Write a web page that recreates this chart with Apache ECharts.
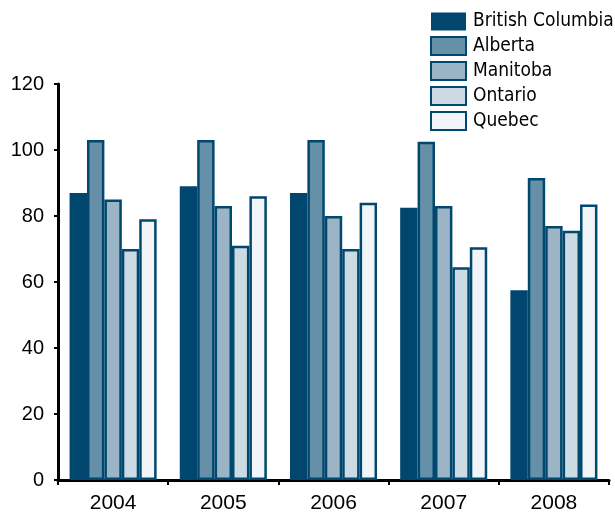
<!DOCTYPE html>
<html><head><meta charset="utf-8">
<script src="https://cdn.jsdelivr.net/npm/echarts@6/dist/echarts.min.js"></script>
<style>html,body{margin:0;padding:0;background:#fff}#c{width:615px;height:514px}</style>
</head><body><div id="c"></div>
<script>
const categories = ['2004','2005','2006','2007','2008'];
const seriesNames = ['British Columbia','Alberta','Manitoba','Ontario','Quebec'];
const britishColumbia = [87, 89, 87, 82.5, 57.5];
const alberta = [103, 103, 103, 102.5, 91.5];
const manitoba = [85, 83, 80, 83, 77];
const ontario = [70, 71, 70, 64.5, 75.5];
const quebec = [79, 86, 84, 70.5, 83.5];
const yTicks = [0,20,40,60,80,100,120];

const values = [britishColumbia, alberta, manitoba, ontario, quebec];
const fills = ['#00466e','#6690a8','#9bb5c6','#ccdbe3','#f1f5f8'];
const border = '#00486f';
const axisFont = '"Liberation Sans", Arial, sans-serif';

const chart = echarts.init(document.getElementById('c'));
chart.setOption({
  animation:false,
  legend:{
    orient:'vertical', left:430, top:12, padding:0,
    icon:'rect',
    itemWidth:35, itemHeight:18, itemGap:5,
    textStyle:{fontFamily:'"DejaVu Sans Condensed", "Liberation Sans", sans-serif', fontSize:19, lineHeight:18, color:'#000', padding:[0,0,0,2]},
    data: seriesNames
  },
  grid:{left:58, right:6, top:84, bottom:34},
  xAxis:{
    type:'category', data:categories,
    axisLine:{lineStyle:{color:'#000', width:3}},
    axisTick:{show:true, length:5, lineStyle:{color:'#000', width:2}},
    axisLabel:{fontFamily:axisFont, fontSize:21, color:'#000', margin:13}
  },
  yAxis:{
    type:'value', min:0, max:120, interval:20,
    axisLine:{show:true, lineStyle:{color:'#000', width:3}},
    axisTick:{show:true, length:4, lineStyle:{color:'#000', width:2}},
    splitLine:{show:false},
    axisLabel:{fontFamily:axisFont, fontSize:20, color:'#000', margin:14,
      formatter:v=> yTicks.includes(v) ? String(v) : ''}
  },
  series: seriesNames.map((n,i)=>({
    name:n, type:'bar', data:values[i],
    barGap:'0%', barCategoryGap:'21%',
    itemStyle:{color:fills[i], borderColor: i===0 ? fills[0] : border, borderWidth: i===0 ? 0 : 2.5}
  }))
});
</script></body></html>
